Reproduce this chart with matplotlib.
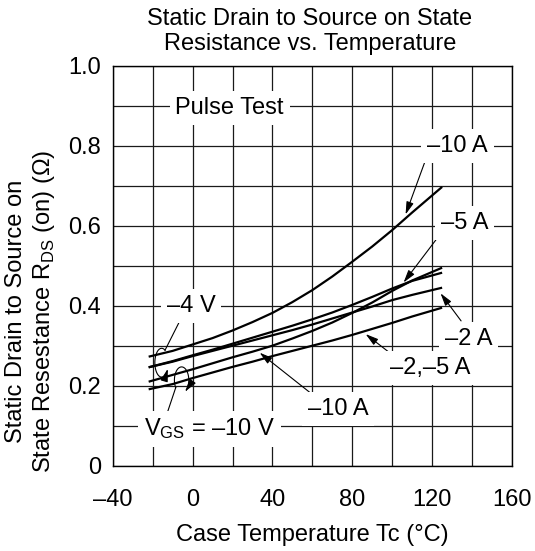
import numpy as np
import matplotlib
matplotlib.use('Agg')
import matplotlib.pyplot as plt

plt.rcParams['font.family'] = ['Liberation Sans', 'DejaVu Sans']
plt.rcParams['mathtext.fontset'] = 'custom'
plt.rcParams['mathtext.rm'] = 'Liberation Sans'

# case temperature (°C) and on-resistance (ohm)
temp = [-22, -10, 0, 10, 20, 30, 40, 50, 60, 70, 80, 90, 100, 110, 125]
r_4v_10a = [0.2725, 0.287, 0.303, 0.319, 0.338, 0.359, 0.382, 0.409, 0.439,
            0.473, 0.51, 0.548, 0.589, 0.633, 0.697]
r_4v_5a = [0.246, 0.2615, 0.276, 0.29, 0.305, 0.32, 0.335, 0.35, 0.366,
           0.383, 0.402, 0.422, 0.443, 0.462, 0.4825]
r_4v_2a = [0.246, 0.260, 0.274, 0.287, 0.300, 0.313, 0.326, 0.339, 0.353,
           0.368, 0.383, 0.398, 0.414, 0.427, 0.445]
r_10v_10a = [0.21, 0.227, 0.241, 0.256, 0.271, 0.285, 0.300, 0.318, 0.337,
             0.358, 0.382, 0.408, 0.437, 0.463, 0.495]
r_10v_25a = [0.191, 0.204, 0.219, 0.233, 0.247, 0.260, 0.274, 0.287, 0.300,
             0.313, 0.327, 0.342, 0.357, 0.373, 0.395]

x_ticks = [-40, 0, 40, 80, 120, 160]
x_labels = ['\u201340', '0', '40', '80', '120', '160']
y_ticks = [0, 0.2, 0.4, 0.6, 0.8, 1.0]
y_labels = ['0', '0.2', '0.4', '0.6', '0.8', '1.0']

fs = 17
fig = plt.figure(figsize=(5.35, 5.51), dpi=100)
ax = fig.add_axes([0.2107, 0.1548, 0.7463, 0.726])

for r in [r_4v_10a, r_4v_5a, r_4v_2a, r_10v_10a, r_10v_25a]:
    ax.plot(temp, r, color='black', lw=1.6, zorder=3, solid_capstyle='butt')

ax.set_xlim(-40, 160)
ax.set_ylim(0, 1.0)
ax.set_xticks(x_ticks)
ax.set_xticklabels(x_labels, fontsize=fs)
ax.set_xticks(np.arange(-40, 161, 20), minor=True)
ax.set_yticks(y_ticks)
ax.set_yticklabels(y_labels, fontsize=fs)
ax.set_yticks(np.arange(0, 1.01, 0.1), minor=True)
ax.grid(which='both', color='#1a1a1a', lw=0.9, zorder=1)
ax.tick_params(which='both', length=0)
ax.tick_params(axis='x', pad=16.5)
ax.tick_params(axis='y', pad=8.5)
for s in ax.spines.values():
    s.set_linewidth(1.0)
ax.set_axisbelow(True)

box = dict(boxstyle='square,pad=0.25', fc='white', ec='none')
arrow = dict(arrowstyle='-|>,head_length=0.38,head_width=0.11', color='black',
             lw=0.8, shrinkA=0, shrinkB=0, mutation_scale=20)

def label(txt, x, y):
    ax.text(x, y, txt, fontsize=fs, ha='center', va='center', bbox=box, zorder=5)

def pointer(x0, y0, x1, y1):
    ax.annotate('', xy=(x1, y1), xytext=(x0, y0), arrowprops=arrow, zorder=4)

label('Pulse Test', 18.6, 0.895)
label('\u201310 A', 132.8, 0.80)
pointer(117.3, 0.7725, 106.7, 0.628)
label('\u20135 A', 136.2, 0.6075)
pointer(125, 0.585, 105.7, 0.458)
label('\u20132 A', 138.3, 0.316)
pointer(134.5, 0.362, 124.2, 0.431)
label('\u20132,\u20135 A', 119.2, 0.2435)
pointer(104.5, 0.26, 86.7, 0.329)
label('\u201310 A', 72.8, 0.141)
pointer(60.3, 0.177, 33.6, 0.2825)
label('\u20134 V', -0.8, 0.40)
label('$\\mathrm{V_{GS}}$ = \u201310 V', 8.6, 0.092)

# lasso loops grouping the curves at the left end
def loop(cx, cy, rx, ry, a0, a1, lead_from):
    t = np.radians(np.linspace(a0, a1, 60))
    lx = cx + rx * np.cos(t)
    ly = cy + ry * np.sin(t)
    ax.plot([lead_from[0], lx[0]], [lead_from[1], ly[0]], color='black', lw=0.8, zorder=4)
    ax.plot(lx[:-3], ly[:-3], color='black', lw=0.8, zorder=4)
    ax.annotate('', xy=(lx[-1], ly[-1]), xytext=(lx[-4], ly[-4]), arrowprops=arrow, zorder=4)

loop(-15.5, 0.2575, 3.4, 0.036, 60, 335, (-6.0, 0.366))
loop(-5.5, 0.214, 3.6, 0.033, 215, -60, (-13.9, 0.114))

fig.text(0.579, 0.9425, 'Static Drain to Source on State\nResistance vs. Temperature',
         fontsize=fs, ha='center', va='center', linespacing=1.15)
fig.text(0.583, 0.029, 'Case Temperature Tc (\u00b0C)', fontsize=fs, ha='center', va='center')
fig.text(0.0577, 0.4356, 'Static Drain to Source on\nState Resestance R$_{\\mathrm{DS}}$ (on) (\u03a9)',
         fontsize=fs, ha='center', va='center', rotation=90, linespacing=1.18)

fig.savefig('out.png', dpi=100)
